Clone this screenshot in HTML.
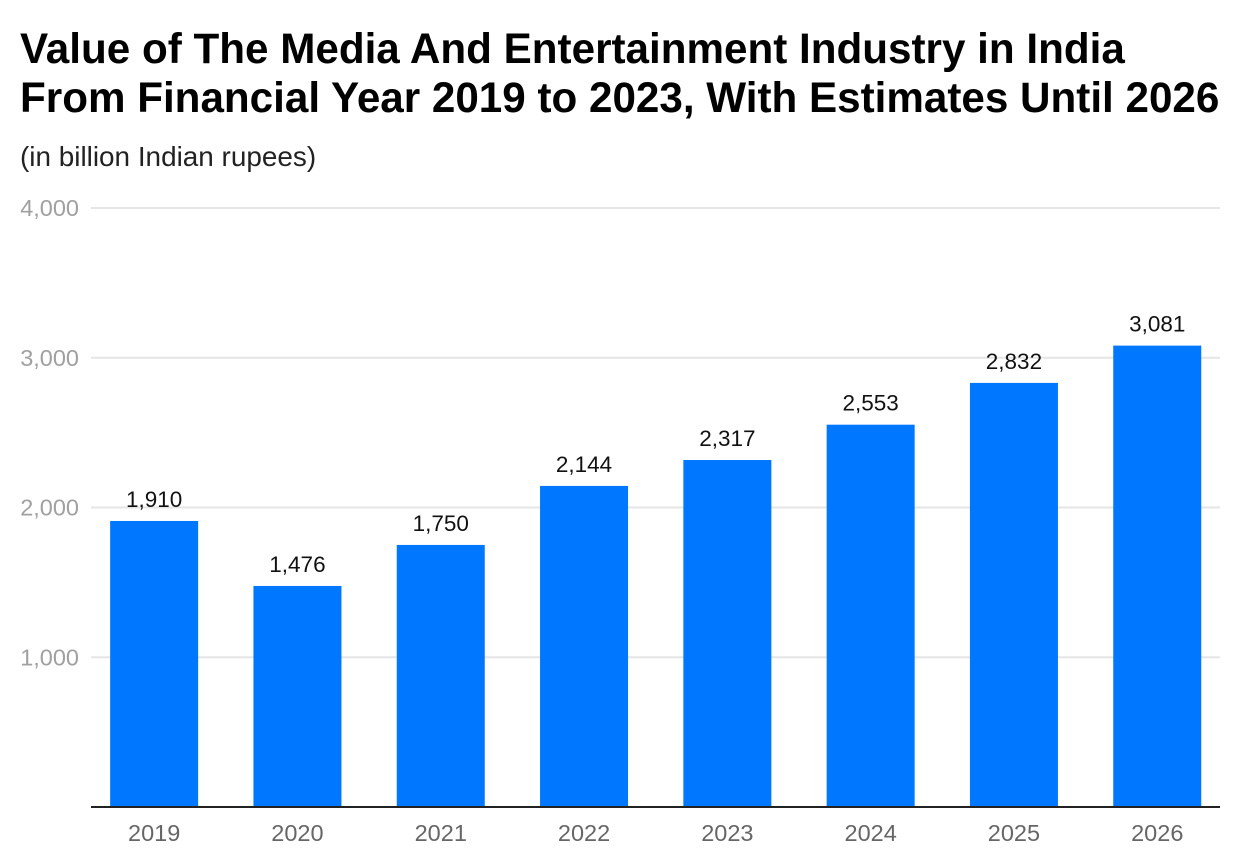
<!DOCTYPE html>
<html><head><meta charset="utf-8">
<style>
body{margin:0;background:#fff;width:1240px;height:868px;overflow:hidden;font-family:"Liberation Sans",sans-serif}
h1{position:absolute;left:20px;top:24px;margin:0;font-size:42.2px;line-height:49px;font-weight:bold;color:#000;letter-spacing:0px;white-space:nowrap}
.sub{position:absolute;left:20px;top:141px;font-size:27.9px;color:#222;white-space:nowrap}
svg{position:absolute;left:0;top:0}
</style></head><body>
<h1>Value of The Media And Entertainment Industry in India<br>From Financial Year 2019 to 2023, With Estimates Until 2026</h1>
<div class="sub">(in billion Indian rupees)</div>
<svg id="chart" width="1240" height="868"></svg>
<script>
const categories=["2019","2020","2021","2022","2023","2024","2025","2026"];
const values=[1910,1476,1750,2144,2317,2553,2832,3081];
const valueLabels=["1,910","1,476","1,750","2,144","2,317","2,553","2,832","3,081"];
const yTicks=[1000,2000,3000,4000];
const yTickLabels=["1,000","2,000","3,000","4,000"];
const NS="http://www.w3.org/2000/svg";
const svg=document.getElementById('chart');
const y0=807,yTop=208,yMax=4000,xL=82.5,band=143.3,barW=88;
const y=v=>y0-(v/yMax)*(y0-yTop);
const xc=i=>xL+band*(i+0.5);
function mk(t,a){const e=document.createElementNS(NS,t);for(const k in a)e.setAttribute(k,a[k]);svg.appendChild(e);return e;}
yTicks.forEach((t,i)=>{
  const g=mk('line',{x1:91,x2:1220,y1:y(t),y2:y(t),stroke:'#e5e5e5','stroke-width':2});
  
  
  const l=mk('text',{x:79,y:y(t)+8,'text-anchor':'end','font-size':23.5,fill:'#a0a0a0'});
  l.textContent=yTickLabels[i];
  
  
});
categories.forEach((c,i)=>{
  const r=mk('rect',{x:xc(i)-barW/2,y:y(values[i]),width:barW,height:y0-y(values[i]),fill:'#0077ff'});
  
  
  const v=mk('text',{x:xc(i),y:y(values[i])-14,'text-anchor':'middle','font-size':22.5,fill:'#111'});
  v.textContent=valueLabels[i];
  
  
  const xl=mk('text',{x:xc(i),y:841,'text-anchor':'middle','font-size':23.5,fill:'#666'});
  xl.textContent=c;
  
  
});
const ax=mk('line',{x1:91,x2:1220,y1:y0,y2:y0,stroke:'#222','stroke-width':2});


</script>
</body></html>
